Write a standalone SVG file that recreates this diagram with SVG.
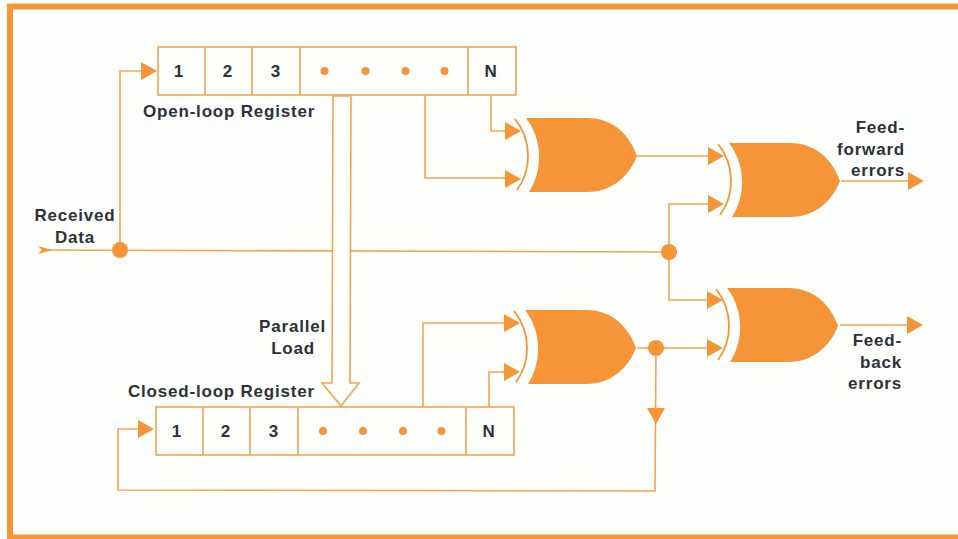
<svg xmlns="http://www.w3.org/2000/svg" width="958" height="539" viewBox="0 0 958 539">
<style>
.w{fill:none;stroke:#f7a24f;stroke-width:1.6}
.b{fill:#fefefd;stroke:#f7a24f;stroke-width:1.6}
.f{fill:#f59537}
.t{font-family:"Liberation Sans",Arial,sans-serif;font-weight:700;font-size:17px;fill:#2b3238;letter-spacing:.8px}
.m{text-anchor:middle}
.e{text-anchor:end}
</style>
<defs>
<path id="ah" class="f" d="M0-9L16 0L0 9Z"/>
<g id="xor">
<path class="f" d="M0 0L61 0C88 0 104 18 111 38C104 56 88 74 61 74L3 74C17 52 17 22 0 0Z"/>
<path fill="none" stroke="#f59537" stroke-width="1.8" d="M-11 1C6 22 6 52 -9 72"/>
</g>
</defs>
<rect width="958" height="539" fill="#fefefd"/>
<g id="frame"><path fill="none" stroke="#f59537" stroke-width="6" d="M958 6.500L10 6.500L10 537.500L958 537.500"/></g>
<g id="connectors">
<path class="w" d="M44 250L669 252"/>
<path class="w" d="M120 250L120 71L143 71"/>
<path class="w" d="M491 95L491 131L506 131"/>
<path class="w" d="M425 95L425 178L506 178"/>
<path class="w" d="M637 156L709 156"/>
<path class="w" d="M669 252L669 204L709 204"/>
<path class="w" d="M669 252L669 300L708 300"/>
<path class="w" d="M423 407L423 323L505 323"/>
<path class="w" d="M489 407L489 372L505 372"/>
<path class="w" d="M637 348L708 348"/>
<path class="w" d="M656 348L655 491L118 490L118 429L139 429"/>
<path class="w" d="M841 181L909 181"/>
<path class="w" d="M840 325L908 325"/>
<path class="f" d="M38 246L52 250L38 254L42 250Z"/>
<use href="#ah" x="141" y="71"/>
<use href="#ah" x="505" y="131"/>
<use href="#ah" x="505" y="179"/>
<use href="#ah" x="708" y="156"/>
<use href="#ah" x="708" y="204"/>
<use href="#ah" x="707" y="300"/>
<use href="#ah" x="707" y="348"/>
<use href="#ah" x="504" y="323"/>
<use href="#ah" x="504" y="372"/>
<use href="#ah" x="908" y="181"/>
<use href="#ah" x="907" y="325"/>
<use href="#ah" x="138" y="429"/>
<path class="f" d="M647 408L665 408L656 424Z"/>
<circle class="f" cx="120" cy="250" r="8"/>
<circle class="f" cx="669" cy="252" r="8"/>
<circle class="f" cx="656" cy="348" r="8"/>
<path id="parallel-load-arrow" class="b" d="M333 96L351 96L350 383L359 383L341 406L322 383L332 383Z"/>
</g>
<g id="open-loop-register">
<rect class="b" x="158" y="47" width="358" height="48"/>
<path class="w" d="M205 47V95M252 47V95M300 47V95M468 47V95"/>
<g class="f"><circle cx="324.500" cy="71" r="4"/><circle cx="365.500" cy="71" r="4"/><circle cx="405.500" cy="71" r="4"/><circle cx="444.500" cy="71" r="4"/></g>
<g class="t m"><text x="179" y="77">1</text><text x="228" y="77">2</text><text x="276" y="77">3</text><text x="491" y="77">N</text></g>
<text class="t" x="143" y="117">Open-loop Register</text>
</g>
<g id="closed-loop-register">
<rect class="b" x="156" y="407" width="358" height="48"/>
<path class="w" d="M203 407V455M250 407V455M298 407V455M466 407V455"/>
<g class="f"><circle cx="323" cy="431" r="4"/><circle cx="363" cy="431" r="4"/><circle cx="403" cy="431" r="4"/><circle cx="441.500" cy="431" r="4"/></g>
<g class="t m"><text x="177" y="437">1</text><text x="226" y="437">2</text><text x="274" y="437">3</text><text x="489" y="437">N</text></g>
<text class="t" x="128" y="397">Closed-loop Register</text>
</g>
<g id="gate-1"><use href="#xor" x="526" y="118"/></g>
<g id="gate-2"><use href="#xor" x="729" y="143"/></g>
<g id="gate-3"><use href="#xor" x="525" y="310"/></g>
<g id="gate-4"><use href="#xor" x="727" y="288"/></g>
<g id="labels">
<text class="t m" x="75" y="221">Received</text>
<text class="t m" x="75" y="243">Data</text>
<text class="t e" x="326" y="332">Parallel</text>
<text class="t e" x="315" y="354">Load</text>
<text class="t e" x="905" y="133">Feed-</text>
<text class="t e" x="905" y="155">forward</text>
<text class="t e" x="905" y="176">errors</text>
<text class="t e" x="902" y="346">Feed-</text>
<text class="t e" x="902" y="368">back</text>
<text class="t e" x="902" y="389">errors</text>
</g>
</svg>
